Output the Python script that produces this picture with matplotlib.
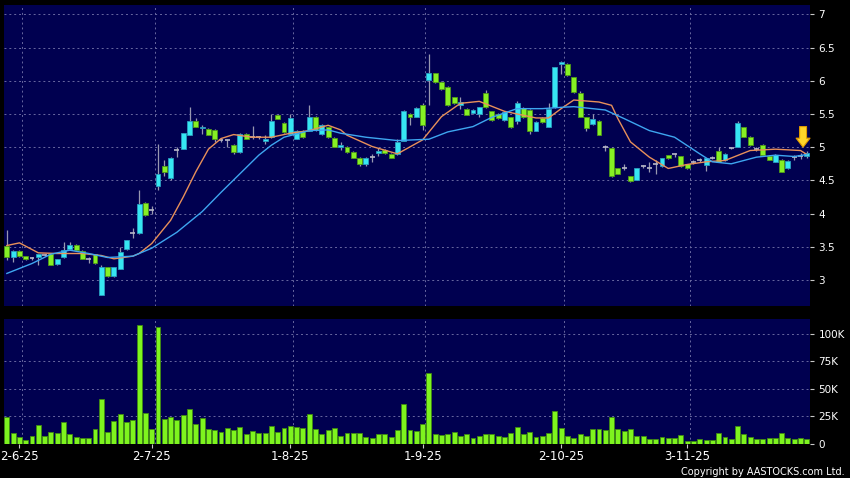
import matplotlib
matplotlib.use("Agg")
import matplotlib.pyplot as plt
import numpy as np

# daily candles, 29-5-25 .. 28-11-25
opens = [3.52, 3.34, 3.44, 3.36, 3.33, 3.34, 3.38, 3.39, 3.24, 3.34,
         3.47, 3.53, 3.44, 3.31, 3.39, 2.78, 3.19, 3.06, 3.17, 3.47,
         3.71, 3.71, 4.16, 4.05, 4.42, 4.71, 4.54, 4.96, 4.98, 5.19,
         5.39, 5.29, 5.28, 5.26, 5.11, 5.11, 5.03, 4.93, 5.20, 5.16,
         5.15, 5.10, 5.15, 5.49, 5.37, 5.20, 5.13, 5.25, 5.25, 5.46,
         5.20, 5.30, 5.14, 5.01, 5.01, 4.93, 4.84, 4.74, 4.85, 4.91,
         4.96, 4.90, 4.90, 5.10, 5.50, 5.46, 5.64, 6.01, 6.11, 5.98,
         5.91, 5.75, 5.64, 5.58, 5.51, 5.50, 5.81, 5.54, 5.50, 5.41,
         5.45, 5.40, 5.59, 5.56, 5.25, 5.44, 5.31, 5.60, 6.25, 6.25,
         6.05, 5.81, 5.45, 5.35, 5.40, 5.00, 4.99, 4.68, 4.69, 4.56,
         4.51, 4.71, 4.69, 4.75, 4.71, 4.88, 4.90, 4.86, 4.74, 4.78,
         4.80, 4.73, 4.84, 4.95, 4.80, 4.99, 5.01, 5.30, 5.16, 4.97,
         5.04, 4.87, 4.78, 4.81, 4.68, 4.85, 4.87, 4.87]
closes = [3.34, 3.44, 3.37, 3.31, 3.33, 3.39, 3.38, 3.23, 3.31, 3.46,
          3.53, 3.45, 3.32, 3.31, 3.25, 3.19, 3.06, 3.19, 3.42, 3.60,
          3.71, 4.15, 3.98, 4.05, 4.59, 4.63, 4.83, 4.96, 5.21, 5.40,
          5.31, 5.31, 5.19, 5.13, 5.11, 5.11, 4.93, 5.20, 5.13, 5.16,
          5.15, 5.13, 5.39, 5.43, 5.23, 5.44, 5.25, 5.15, 5.46, 5.26,
          5.34, 5.15, 5.01, 5.04, 4.93, 4.84, 4.74, 4.84, 4.85, 4.95,
          4.91, 4.84, 5.08, 5.55, 5.46, 5.59, 5.33, 6.11, 5.98, 5.87,
          5.63, 5.66, 5.68, 5.49, 5.56, 5.60, 5.60, 5.41, 5.44, 5.53,
          5.30, 5.66, 5.45, 5.24, 5.38, 5.38, 5.58, 6.20, 6.28, 6.08,
          5.83, 5.46, 5.29, 5.43, 5.19, 5.00, 4.56, 4.60, 4.69, 4.49,
          4.68, 4.71, 4.69, 4.75, 4.83, 4.83, 4.90, 4.71, 4.68, 4.78,
          4.80, 4.83, 4.84, 4.78, 4.90, 4.99, 5.37, 5.16, 5.03, 4.97,
          4.89, 4.81, 4.89, 4.63, 4.79, 4.85, 4.87, 4.92]
highs = [3.76, 3.45, 3.46, 3.37, 3.35, 3.40, 3.40, 3.41, 3.32, 3.58,
         3.58, 3.54, 3.45, 3.35, 3.40, 3.22, 3.20, 3.20, 3.50, 3.61,
         3.79, 4.36, 4.17, 4.12, 5.05, 4.81, 4.85, 5.00, 5.22, 5.60,
         5.44, 5.33, 5.29, 5.27, 5.12, 5.12, 5.05, 5.21, 5.21, 5.32,
         5.17, 5.18, 5.50, 5.50, 5.38, 5.50, 5.26, 5.26, 5.63, 5.47,
         5.35, 5.31, 5.15, 5.08, 5.02, 4.94, 4.85, 4.85, 4.90, 4.99,
         4.97, 4.91, 5.12, 5.56, 5.52, 5.60, 5.67, 6.40, 6.12, 5.99,
         5.92, 5.76, 5.76, 5.59, 5.57, 5.61, 5.86, 5.55, 5.51, 5.54,
         5.46, 5.70, 5.60, 5.57, 5.39, 5.45, 5.66, 6.21, 6.29, 6.26,
         6.06, 5.85, 5.46, 5.50, 5.41, 5.03, 5.00, 4.69, 4.74, 4.57,
         4.69, 4.73, 4.77, 4.80, 4.84, 4.89, 4.92, 4.87, 4.75, 4.80,
         4.83, 4.84, 4.86, 5.01, 4.91, 5.01, 5.39, 5.31, 5.17, 5.00,
         5.05, 4.88, 4.90, 4.82, 4.80, 4.88, 4.91, 4.95]
lows = [3.30, 3.27, 3.35, 3.30, 3.30, 3.23, 3.36, 3.22, 3.23, 3.33,
        3.46, 3.44, 3.31, 3.26, 3.24, 2.77, 3.05, 3.05, 3.16, 3.46,
        3.63, 3.70, 3.97, 4.00, 4.35, 4.56, 4.50, 4.85, 4.97, 5.18,
        5.30, 5.20, 5.18, 5.08, 5.08, 5.00, 4.90, 4.92, 5.12, 5.12,
        5.12, 5.05, 5.14, 5.42, 5.22, 5.19, 5.12, 5.14, 5.24, 5.25,
        5.19, 5.14, 5.00, 4.96, 4.92, 4.83, 4.72, 4.72, 4.78, 4.86,
        4.90, 4.83, 4.89, 5.09, 5.33, 5.45, 5.26, 5.63, 5.97, 5.86,
        5.62, 5.65, 5.58, 5.48, 5.50, 5.45, 5.59, 5.40, 5.43, 5.40,
        5.29, 5.35, 5.44, 5.20, 5.24, 5.37, 5.30, 5.59, 6.10, 6.07,
        5.82, 5.45, 5.25, 5.33, 5.18, 4.95, 4.55, 4.59, 4.65, 4.48,
        4.50, 4.69, 4.62, 4.60, 4.70, 4.82, 4.85, 4.70, 4.67, 4.74,
        4.77, 4.64, 4.82, 4.77, 4.79, 4.97, 5.00, 5.15, 5.02, 4.94,
        4.88, 4.80, 4.77, 4.62, 4.67, 4.80, 4.82, 4.83]
# volume in thousands
volume = [23.8, 10, 5.8, 3, 7, 16.5, 6.4, 10.7, 10, 19.2,
          8.5, 5.8, 5.2, 4.6, 12.8, 40.5, 10.7, 20.4, 26.5, 19.5,
          21, 108, 28, 13.4, 106, 22.6, 24.4, 21.3, 25.6, 31.4,
          18, 23.5, 13.1, 12.2, 10.7, 14.3, 12.5, 15.2, 8.8, 11.6,
          9.5, 9.5, 15.9, 10.7, 14, 15.5, 15, 14, 27, 13.1,
          9.1, 12.5, 13.7, 6.7, 10, 10, 9.5, 5.8, 4.9, 8.8,
          8.5, 5.8, 12.5, 35.7, 11.9, 11.3, 17.7, 64, 9.1, 7.3,
          8.5, 10.7, 6.7, 8.2, 4.6, 7, 8.2, 8.2, 7, 5.8,
          10, 15, 8.2, 10.4, 6.1, 6.7, 10, 29.3, 14, 6.4,
          5.2, 8.8, 7, 13.1, 13.1, 12.2, 23.8, 12.8, 11.6, 12.8,
          6.4, 6.7, 4, 4, 5.8, 4.6, 4.6, 7.3, 2.7, 2.4,
          3.7, 3.4, 3.4, 9.8, 6.1, 4.3, 15.5, 9.1, 5.8, 4.3,
          4, 4.6, 4.6, 10, 5.2, 4, 4.6, 4.3]

# moving averages (candle index, value)
ma_fast_idx = [0, 2, 5, 8, 12, 15, 17, 20, 21, 23, 26, 28, 30, 32, 34, 36, 39, 42,
               45, 48, 51, 53, 54, 58, 62, 66, 69, 72, 75, 79, 82, 84, 86, 88, 90,
               94, 96, 97, 99, 102, 105, 108, 111, 114, 118, 122, 126, 127]
ma_fast = [3.52, 3.56, 3.41, 3.40, 3.40, 3.37, 3.32, 3.36, 3.40, 3.55, 3.90, 4.25,
           4.63, 4.97, 5.13, 5.19, 5.15, 5.15, 5.21, 5.25, 5.33, 5.26, 5.18, 5.01,
           4.90, 5.11, 5.46, 5.66, 5.69, 5.54, 5.48, 5.44, 5.44, 5.58, 5.71, 5.68,
           5.63, 5.43, 5.08, 4.85, 4.68, 4.74, 4.78, 4.80, 4.95, 4.97, 4.95, 4.89]
ma_slow_idx = [0, 4, 7, 10, 13, 16, 20, 23, 27, 31, 34, 37, 40, 42, 44, 48, 51, 53,
               57, 62, 67, 70, 74, 77, 81, 85, 88, 90, 95, 98, 102, 106, 110, 112,
               115, 119, 122, 125, 127]
ma_slow = [3.10, 3.25, 3.39, 3.45, 3.40, 3.34, 3.36, 3.48, 3.72, 4.03, 4.32, 4.60,
           4.88, 5.03, 5.15, 5.25, 5.26, 5.21, 5.15, 5.10, 5.12, 5.23, 5.31, 5.45,
           5.58, 5.58, 5.60, 5.61, 5.56, 5.43, 5.25, 5.15, 4.90, 4.78, 4.75, 4.85,
           4.88, 4.86, 4.89]

tick_idx = [2, 23, 45, 66, 88, 108]
tick_labels = ["2-6-25", "2-7-25", "1-8-25", "1-9-25", "2-10-25", "3-11-25"]
price_ticks = [3, 3.5, 4, 4.5, 5, 5.5, 6, 6.5, 7]
vol_ticks = [0, 25, 50, 75, 100]
vol_labels = ["0", "25K", "50K", "75K", "100K"]

NAVY = "#000050"
GRID = "#6868a0"
UP, UP_EDGE = "#36e6f2", "#2a9cc0"
DOWN, DOWN_EDGE = "#86f024", "#4e9a18"
FLAT = "#b8b8c8"
W = 850
H = 478

o = np.array(opens)
c = np.array(closes)
x = np.arange(len(o))

fig = plt.figure(figsize=(8.5, 4.78), dpi=100, facecolor="black")
ax1 = fig.add_axes([4 / W, 1 - 306 / H, 806 / W, 301 / H], facecolor=NAVY)
ax2 = fig.add_axes([4 / W, 1 - 443.5 / H, 806 / W, 124.5 / H], facecolor=NAVY)

for ax in (ax1, ax2):
    for s in ax.spines.values():
        s.set_visible(False)
    ax.set_xlim(-0.45, 127.5)
    ax.yaxis.tick_right()
    ax.tick_params(axis="y", direction="out", length=3, width=0.8, color="#c8c8c8",
                   labelcolor="white", labelsize=7.5, pad=3)
    ax.grid(axis="y", color=GRID, linestyle=(0, (2, 3)), linewidth=0.7)
    for t in tick_idx:
        ax.axvline(t + 0.45, color=GRID, linestyle=(0, (2, 3)), linewidth=0.7, zorder=0)
    ax.set_axisbelow(True)

# price panel
up = c > o
down = c < o
flat = c == o
ax1.vlines(x, lows, highs, color="#9898b0", linewidth=0.9, zorder=2)
ax1.bar(x[up], (c - o)[up], bottom=o[up], width=0.78, color=UP,
        edgecolor=UP_EDGE, linewidth=0.6, zorder=3)
ax1.bar(x[down], (o - c)[down], bottom=c[down], width=0.78, color=DOWN,
        edgecolor=DOWN_EDGE, linewidth=0.6, zorder=3)
ax1.hlines(c[flat], x[flat] - 0.39, x[flat] + 0.39, color=FLAT, linewidth=1.2, zorder=3)
ax1.plot(ma_fast_idx, ma_fast, color="#e8905a", linewidth=1.0, zorder=4)
ax1.plot(ma_slow_idx, ma_slow, color="#3ea6f0", linewidth=1.0, zorder=4)

# marker arrow above the last candle
ax1.annotate("", xy=(x[-1] - 0.6, highs[-1] + 0.05), xytext=(x[-1] - 0.6, highs[-1] + 0.36),
             arrowprops=dict(arrowstyle="simple,head_width=1.0,head_length=0.65,tail_width=0.5",
                             mutation_scale=10, shrinkA=0, shrinkB=0,
                             fc="#ffd52a", ec="#e09a00", lw=0.8),
             zorder=6)

ax1.set_ylim(2.61, 7.14)
ax1.set_yticks(price_ticks)
ax1.set_yticklabels(["%g" % v for v in price_ticks])
ax1.set_xticks([])

# volume panel
ax2.bar(x, volume, width=0.78, color="#7ef41e", edgecolor="#3f8a12", linewidth=0.6, zorder=3)
ax2.set_ylim(0, 113.4)
ax2.set_yticks(vol_ticks)
ax2.set_yticklabels(vol_labels)
ax2.set_xticks(tick_idx)
ax2.set_xticklabels(tick_labels)
ax2.tick_params(axis="x", direction="out", length=3, width=0.8, color="#c8c8c8",
                labelcolor="white", labelsize=8.5, pad=2)

fig.text(845 / W, 1 - 472 / H, "Copyright by AASTOCKS.com Ltd.", color="white",
         fontsize=7.0, ha="right", va="center")

fig.savefig("out.png", dpi=100, facecolor="black")
